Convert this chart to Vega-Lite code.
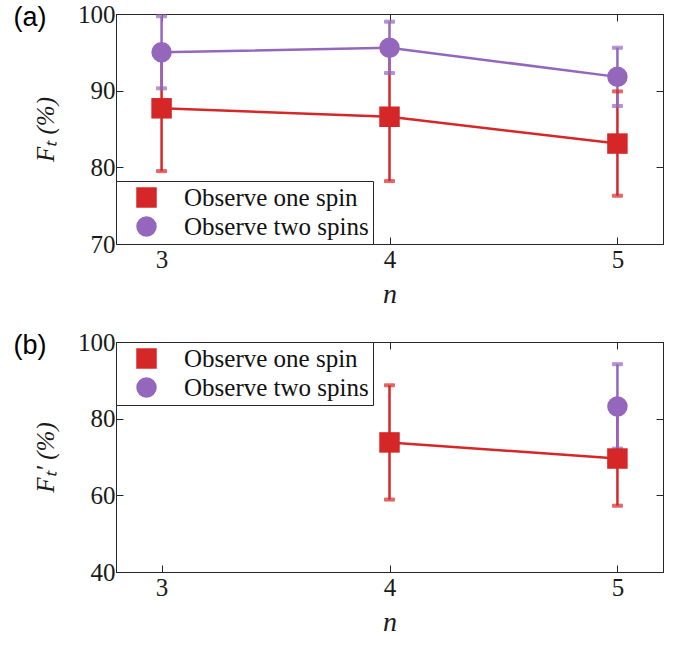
{
  "$schema": "https://vega.github.io/schema/vega-lite/v6.json",
  "background": "white",
  "padding": {"left": 13, "top": 1, "right": 4, "bottom": 5},
  "spacing": 20,
  "config": {
    "font": "Liberation Serif",
    "view": {"stroke": "#262626", "strokeWidth": 1},
    "axis": {
      "domainColor": "#262626", "tickColor": "#262626", "labelColor": "#1a1a1a", "titleColor": "#1a1a1a",
      "labelFont": "Liberation Serif", "labelFontSize": 25, "titleFont": "Liberation Serif", "titleFontWeight": "normal",
      "grid": false, "tickSize": -7, "tickWidth": 1, "domainWidth": 1
    },
    "legend": {
      "labelFont": "Liberation Serif", "labelFontSize": 25, "labelColor": "#111", "labelLimit": 400,
      "strokeColor": "#262626", "fillColor": "white", "padding": 4, "symbolOffset": 14,
      "labelOffset": 25, "rowPadding": 3, "symbolSize": 420, "symbolStrokeWidth": 0, "symbolOpacity": 1, "cornerRadius": 0
    },
    "title": {"font": "Liberation Sans", "fontSize": 27, "fontWeight": "normal", "color": "black", "anchor": "start", "frame": "bounds"}
  },
  "datasets": {
    "a": [
      {"n": 3, "series": "Observe one spin", "value": 87.7, "lo": 79.5, "hi": 95.9},
      {"n": 4, "series": "Observe one spin", "value": 86.6, "lo": 78.2, "hi": 95.0},
      {"n": 5, "series": "Observe one spin", "value": 83.1, "lo": 76.3, "hi": 89.9},
      {"n": 3, "series": "Observe two spins", "value": 95.0, "lo": 90.3, "hi": 99.7},
      {"n": 4, "series": "Observe two spins", "value": 95.6, "lo": 92.3, "hi": 99.0},
      {"n": 5, "series": "Observe two spins", "value": 91.8, "lo": 88.0, "hi": 95.6}
    ],
    "b": [
      {"n": 4, "series": "Observe one spin", "value": 73.8, "lo": 58.9, "hi": 88.7},
      {"n": 5, "series": "Observe one spin", "value": 69.6, "lo": 57.3, "hi": 81.9},
      {"n": 5, "series": "Observe two spins", "value": 83.2, "lo": 72.2, "hi": 94.2}
    ]
  },
  "vconcat": [
    {
      "width": 547, "height": 230,
      "title": {"text": "(a)", "offset": -30, "dx": -20},
      "data": {"name": "a"},
      "resolve": {"axis": {"x": "independent", "y": "independent"}},
      "layer": [
        {
          "mark": {"type": "line", "strokeWidth": 2.5},
          "encoding": {
            "x": {"field": "n", "type": "quantitative", "scale": {"domain": [2.8, 5.2], "nice": false, "zero": false},
                  "axis": {"orient": "bottom", "values": [3, 4, 5], "title": "n", "titleFontStyle": "italic", "titleFontSize": 28, "labelPadding": 10, "titlePadding": 8}},
            "y": {"field": "value", "type": "quantitative", "scale": {"domain": [70, 100], "nice": false, "zero": false},
                  "axis": {"orient": "left", "values": [70, 80, 90, 100], "title": "Fₜ (%)", "titleFontStyle": "italic", "titleFontSize": 25, "labelPadding": 8, "titlePadding": 19}},
            "stroke": {"field": "series", "type": "nominal", "scale": {"domain": ["Observe one spin", "Observe two spins"], "range": ["#d62728", "#9467bd"]}, "legend": null}
          }
        },
        {
          "mark": {"type": "rule", "strokeWidth": 2.5},
          "encoding": {
            "x": {"field": "n", "type": "quantitative", "axis": null},
            "y": {"field": "lo", "type": "quantitative", "axis": null},
            "y2": {"field": "hi"},
            "stroke": {"field": "series", "type": "nominal", "legend": null}
          }
        },
        {
          "mark": {"type": "tick", "orient": "horizontal", "size": 10, "thickness": 3},
          "encoding": {
            "x": {"field": "n", "type": "quantitative", "axis": null},
            "y": {"field": "lo", "type": "quantitative", "axis": null},
            "stroke": {"field": "series", "type": "nominal", "legend": null},
            "fill": {"field": "series", "type": "nominal"}
          }
        },
        {
          "mark": {"type": "tick", "orient": "horizontal", "size": 10, "thickness": 3},
          "encoding": {
            "x": {"field": "n", "type": "quantitative", "axis": null},
            "y": {"field": "hi", "type": "quantitative", "axis": null},
            "stroke": {"field": "series", "type": "nominal", "legend": null},
            "fill": {"field": "series", "type": "nominal"}
          }
        },
        {
          "mark": {"type": "point", "filled": true, "opacity": 1, "size": 420, "strokeWidth": 0},
          "encoding": {
            "x": {"field": "n", "type": "quantitative", "axis": {"orient": "top", "values": [3, 4, 5], "labels": false, "title": null}},
            "y": {"field": "value", "type": "quantitative", "axis": {"orient": "right", "values": [70, 80, 90, 100], "labels": false, "title": null}},
            "fill": {"field": "series", "type": "nominal", "scale": {"domain": ["Observe one spin", "Observe two spins"], "range": ["#d62728", "#9467bd"]}, "legend": {"title": null, "orient": "bottom-left", "offset": 0}},
            "shape": {"field": "series", "type": "nominal", "scale": {"domain": ["Observe one spin", "Observe two spins"], "range": ["square", "circle"]}, "legend": {"title": null, "orient": "bottom-left", "offset": 0}}
          }
        }
      ]
    },
    {
      "width": 547, "height": 230,
      "title": {"text": "(b)", "offset": -30, "dx": -20},
      "data": {"name": "b"},
      "resolve": {"axis": {"x": "independent", "y": "independent"}},
      "layer": [
        {
          "mark": {"type": "line", "strokeWidth": 2.5},
          "encoding": {
            "x": {"field": "n", "type": "quantitative", "scale": {"domain": [2.8, 5.2], "nice": false, "zero": false},
                  "axis": {"orient": "bottom", "values": [3, 4, 5], "title": "n", "titleFontStyle": "italic", "titleFontSize": 28, "labelPadding": 10, "titlePadding": 8}},
            "y": {"field": "value", "type": "quantitative", "scale": {"domain": [40, 100], "nice": false, "zero": false},
                  "axis": {"orient": "left", "values": [40, 60, 80, 100], "title": "Fₜ′ (%)", "titleFontStyle": "italic", "titleFontSize": 25, "labelPadding": 8, "titlePadding": 19}},
            "stroke": {"field": "series", "type": "nominal", "scale": {"domain": ["Observe one spin", "Observe two spins"], "range": ["#d62728", "#9467bd"]}, "legend": null}
          }
        },
        {
          "mark": {"type": "rule", "strokeWidth": 2.5},
          "encoding": {
            "x": {"field": "n", "type": "quantitative", "axis": null},
            "y": {"field": "lo", "type": "quantitative", "axis": null},
            "y2": {"field": "hi"},
            "stroke": {"field": "series", "type": "nominal", "legend": null}
          }
        },
        {
          "mark": {"type": "tick", "orient": "horizontal", "size": 10, "thickness": 3},
          "encoding": {
            "x": {"field": "n", "type": "quantitative", "axis": null},
            "y": {"field": "lo", "type": "quantitative", "axis": null},
            "stroke": {"field": "series", "type": "nominal", "legend": null},
            "fill": {"field": "series", "type": "nominal"}
          }
        },
        {
          "mark": {"type": "tick", "orient": "horizontal", "size": 10, "thickness": 3},
          "encoding": {
            "x": {"field": "n", "type": "quantitative", "axis": null},
            "y": {"field": "hi", "type": "quantitative", "axis": null},
            "stroke": {"field": "series", "type": "nominal", "legend": null},
            "fill": {"field": "series", "type": "nominal"}
          }
        },
        {
          "mark": {"type": "point", "filled": true, "opacity": 1, "size": 420, "strokeWidth": 0},
          "encoding": {
            "x": {"field": "n", "type": "quantitative", "axis": {"orient": "top", "values": [3, 4, 5], "labels": false, "title": null}},
            "y": {"field": "value", "type": "quantitative", "axis": {"orient": "right", "values": [40, 60, 80, 100], "labels": false, "title": null}},
            "fill": {"field": "series", "type": "nominal", "scale": {"domain": ["Observe one spin", "Observe two spins"], "range": ["#d62728", "#9467bd"]}, "legend": {"title": null, "orient": "top-left", "offset": 0}},
            "shape": {"field": "series", "type": "nominal", "scale": {"domain": ["Observe one spin", "Observe two spins"], "range": ["square", "circle"]}, "legend": {"title": null, "orient": "top-left", "offset": 0}}
          }
        }
      ]
    }
  ]
}
